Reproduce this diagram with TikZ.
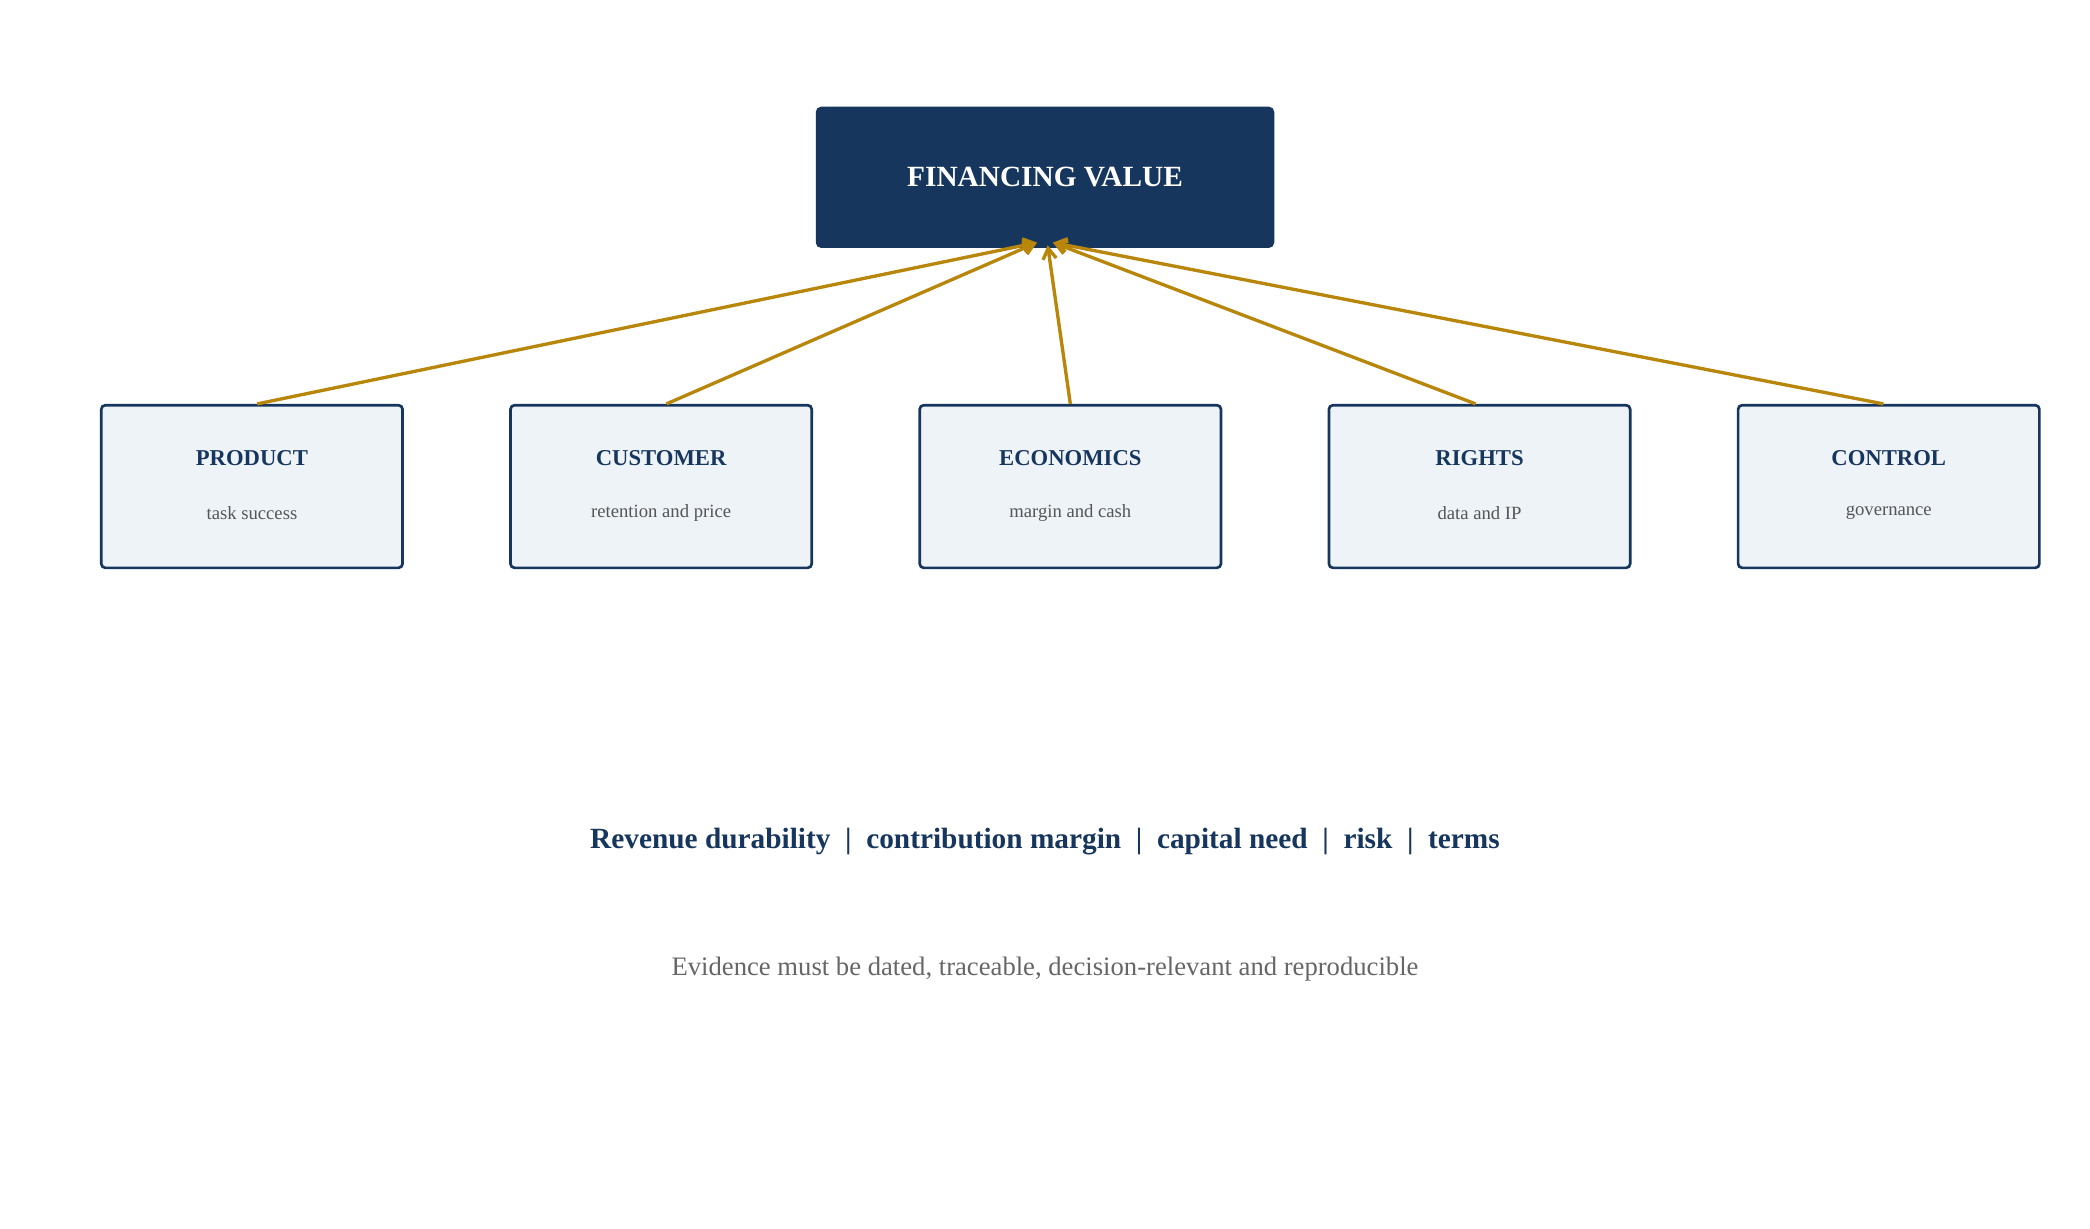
\documentclass[tikz,border=0pt]{standalone}
\usepackage{fontspec}
\setmainfont{Liberation Serif}
\usetikzlibrary{arrows.meta}
\definecolor{navy}{HTML}{17365D}
\definecolor{gold}{HTML}{B8860B}
\definecolor{pale}{HTML}{EEF3F8}
\definecolor{gtxt}{HTML}{555555}
\begin{document}
\begin{tikzpicture}[x=1pt,y=-1pt,
  cat/.style={draw=navy,line width=2pt,fill=pale,rounded corners=3pt,minimum width=226pt,minimum height=122pt},
  ttl/.style={font=\fontsize{17}{20}\selectfont\bfseries,text=navy},
  sub/.style={font=\fontsize{14}{17}\selectfont,text=gtxt},
  arr/.style={draw=gold,line width=2.5pt,-{Straight Barb[length=8pt,width=10pt]}}]
\useasboundingbox (0,0) rectangle (1568,922);
\node[fill=navy,rounded corners=4pt,minimum width=344pt,minimum height=106pt,text=white,font=\fontsize{22}{26}\selectfont\bfseries] (top) at (784,133) {FINANCING VALUE};
\foreach \n/\x/\t/\s in {p/189/PRODUCT/task success,c/496/CUSTOMER/retention and price,e/803/ECONOMICS/margin and cash,r/1110/RIGHTS/data and IP,g/1417/CONTROL/governance}{
  \node[cat] (\n) at (\x,365) {};
  \node[ttl] (\n t) at (\x,344) {\t};
  \node[sub] (\n s) at (\x,385) {\s};
}
\coordinate (al) at (778,182);
\coordinate (am) at (786,184);
\coordinate (ar) at (790,182);
\draw[arr] ([xshift=4pt]p.north) -- (al);
\draw[arr] ([xshift=4pt]c.north) -- (al);
\draw[arr] (e.north) -- (am);
\draw[arr] ([xshift=-3pt]r.north) -- (ar);
\draw[arr] ([xshift=-4pt]g.north) -- (ar);
\node[font=\fontsize{22}{26}\selectfont\bfseries,text=navy] (band) at (784,631) {Revenue durability~~|~~contribution margin~~|~~capital need~~|~~risk~~|~~terms};
\node[font=\fontsize{20}{24}\selectfont,text=gtxt!90] (foot) at (784,727) {Evidence must be dated, traceable, decision-relevant and reproducible};
\end{tikzpicture}
\end{document}
